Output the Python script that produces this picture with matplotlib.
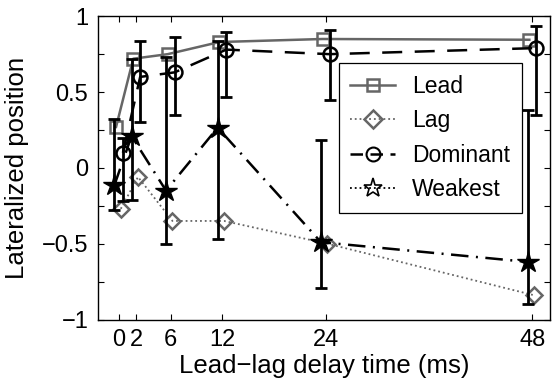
import matplotlib
matplotlib.use("Agg")
import matplotlib.pyplot as plt
from matplotlib.lines import Line2D
import numpy as np

plt.rcParams['font.family'] = ['Liberation Sans', 'DejaVu Sans']

# Lead-lag delay conditions (ms)
delays = np.array([0, 2, 6, 12, 24, 48])

# Mean lateralized positions
lead = np.array([0.27, 0.72, 0.75, 0.83, 0.85, 0.845])
lag = np.array([-0.27, -0.06, -0.35, -0.35, -0.50, -0.84])
dominant = np.array([0.10, 0.60, 0.63, 0.78, 0.75, 0.79])
weakest = np.array([-0.115, 0.21, -0.15, 0.265, -0.49, -0.62])

# Error-bar extents (lower / upper limits)
dominant_lo = np.array([-0.22, 0.30, 0.35, 0.47, 0.45, 0.35])
dominant_hi = np.array([0.20, 0.835, 0.86, 0.895, 0.91, 0.935])
weakest_lo = np.array([-0.275, -0.21, -0.50, -0.47, -0.79, -0.90])
weakest_hi = np.array([0.325, 0.72, 0.73, 0.84, 0.185, 0.38])

xtick_vals = [0, 2, 6, 12, 24, 48]
ytick_vals = np.arange(-1, 1.01, 0.25)

# small horizontal jitter so overlapping series stay readable
off_lead, off_lag, off_dom, off_weak = -0.35, 0.2, 0.45, -0.55

gray = '#666666'

fig = plt.figure(figsize=(5.52, 3.87), dpi=100)
ax = fig.add_axes([0.1775, 0.1744, 0.8189, 0.7836])

ax.plot(delays + off_lead, lead, '-', color=gray, lw=1.8, marker='s',
        ms=8, mfc='none', mec=gray, mew=1.8, zorder=3)
ax.plot(delays + off_lag, lag, ':', color=gray, lw=1.3, marker='D',
        ms=8, mfc='none', mec=gray, mew=1.8, zorder=3)
ax.plot(delays + off_dom, dominant, color='black', lw=1.8, marker='o',
        ms=10, mfc='none', mec='black', mew=1.8, dashes=(8, 5), zorder=4)
ax.plot(delays + off_weak, weakest, color='black', lw=1.8, marker='*',
        ms=16, mfc='black', mec='black', mew=1.0, dashes=(7, 3, 0.8, 3), zorder=4)

ax.errorbar(delays + off_dom, dominant,
            yerr=[dominant - dominant_lo, dominant_hi - dominant],
            fmt='none', ecolor='black', elinewidth=2.0, capsize=4.5,
            capthick=2.0, zorder=5)
ax.errorbar(delays + off_weak, weakest,
            yerr=[weakest - weakest_lo, weakest_hi - weakest],
            fmt='none', ecolor='black', elinewidth=2.0, capsize=4.5,
            capthick=2.0, zorder=5)

ax.set_xlim(-2.45, 50.05)
ax.set_ylim(-1, 1)
ax.set_xticks(xtick_vals)
ax.set_xticklabels([str(v) for v in xtick_vals])
ax.set_yticks(ytick_vals)
ax.set_yticklabels(['\u22121', '', '\u22120.5', '', '0', '', '0.5', '', '1'])
ax.tick_params(direction='in', top=True, right=True, length=4, width=0.8,
               labelsize=17, pad=7)
for s in ax.spines.values():
    s.set_linewidth(1.0)

ax.set_xlabel('Lead\u2212lag delay time (ms)', fontsize=18.5, labelpad=2)
ax.set_ylabel('Lateralized position', fontsize=18.5, labelpad=9)

handles = [
    Line2D([], [], color=gray, lw=1.8, marker='s', ms=8, mfc='none', mec=gray, mew=1.8),
    Line2D([], [], color=gray, lw=1.3, ls=':', marker='D', ms=9, mfc='none', mec=gray, mew=1.8),
    Line2D([], [], color='black', lw=1.8, marker='o', ms=10, mfc='none', mec='black', mew=1.5, dashes=(5, 3)),
    Line2D([], [], color='black', lw=1.3, ls=':', marker='*', ms=14, mfc='none', mec='black', mew=1.2),
]
leg = ax.legend(handles, ['Lead', 'Lag', 'Dominant', 'Weakest'],
                loc='upper left', bbox_to_anchor=(0.533, 0.845),
                borderaxespad=0, fontsize=16.5, fancybox=False,
                edgecolor='black', framealpha=1, handlelength=1.95,
                handletextpad=0.75, labelspacing=0.5, borderpad=0.5)
leg.get_frame().set_linewidth(0.9)

fig.savefig('out.png', dpi=100)
